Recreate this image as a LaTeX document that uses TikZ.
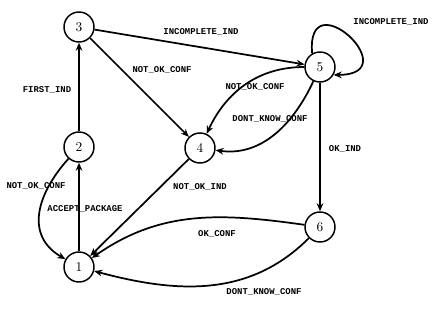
\documentclass[tikz,border=0pt]{standalone}
\usepackage{fontspec}
\setmonofont{Liberation Mono}
\usetikzlibrary{arrows.meta}
\tikzset{
	state/.style={draw,circle,line width=1.1pt,minimum size=22.5pt,inner sep=0pt,font=\normalsize},
	trans/.style={line width=1.3pt,-{Stealth[length=6pt,width=5pt]}},
	lbl/.style={font=\ttfamily\bfseries\fontsize{6.7}{7}\selectfont,inner sep=0pt}
}

\begin{document}
\begin{tikzpicture}[x=0.75pt,y=0.75pt]
	\useasboundingbox (0,0) rectangle (439,308);
	% states
	\node[state] (n1) at (79,41) {1};
	\node[state] (n2) at (79,161) {2};
	\node[state] (n3) at (79,281) {3};
	\node[state] (n4) at (200,160) {4};
	\node[state] (n5) at (320,241) {5};
	\node[state] (n6) at (320,81) {6};
	% transitions
	\draw[trans] (n1) -- (n2) node[lbl] (l12) at (85,99) {ACCEPT\_PACKAGE};
	\draw[trans] (n2) -- (n3) node[lbl] (l23) at (47,218) {FIRST\_IND};
	\draw[trans] (n2) to[out=228,in=150,looseness=1.2] (n1) node[lbl] (l21) at (36,122) {NOT\_OK\_CONF};
	\draw[trans] (n3) -- (n5) node[lbl] (l35) at (201,276) {INCOMPLETE\_IND};
	\draw[trans] (n3) -- (n4) node[lbl] (l34) at (162,238) {NOT\_OK\_CONF};
	\draw[trans] (n4) -- (n1) node[lbl] (l41) at (200,121) {NOT\_OK\_IND};
	\draw[trans] (n5) to[out=180,in=65] (n4) node[lbl] (l54a) at (255,221) {NOT\_OK\_CONF};
	\draw[trans] (n5) to[out=245,in=-8] (n4) node[lbl] (l54b) at (270,189) {DONT\_KNOW\_CONF};
	\draw[trans] (n5.120) .. controls +(95:75) and +(0:75) .. (n5.-30) node[lbl] (l55) at (391,286) {INCOMPLETE\_IND};
	\draw[trans] (n5) -- (n6) node[lbl] (l56) at (345,159) {OK\_IND};
	\draw[trans] (n6) to[out=172,in=35] (n1) node[lbl] (l61a) at (217,74) {OK\_CONF};
	\draw[trans] (n6) to[out=225,in=-15] (n1) node[lbl] (l61b) at (264,16) {DONT\_KNOW\_CONF};
\end{tikzpicture}
\end{document}
